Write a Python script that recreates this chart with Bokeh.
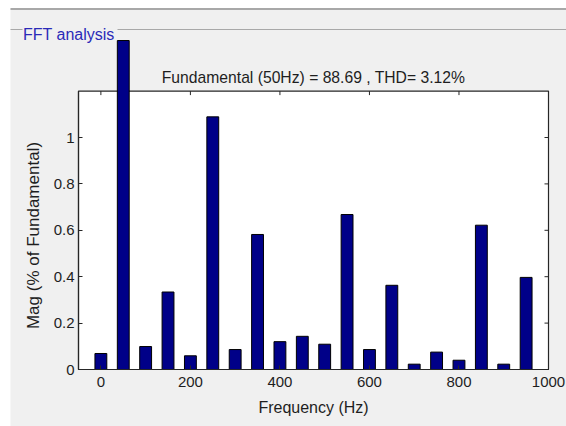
import math
from bokeh.plotting import figure
from bokeh.models import Range1d, FixedTicker, Label
from bokeh.embed import file_html
from bokeh.resources import INLINE

# ---- data ----
freqs = [0, 50, 100, 150, 200, 250, 300, 350, 400, 450,
         500, 550, 600, 650, 700, 750, 800, 850, 900, 950]
mags = [0.069, 1.418, 0.099, 0.334, 0.059, 1.089, 0.086, 0.582, 0.120, 0.143,
        0.109, 0.668, 0.086, 0.363, 0.023, 0.075, 0.040, 0.622, 0.023, 0.397]
xticks = [0, 200, 400, 600, 800, 1000]
yticks = [0, 0.2, 0.4, 0.6, 0.8, 1]
ytick_labels = ["0", "0.2", "0.4", "0.6", "0.8", "1"]
title_text = "Fundamental (50Hz) = 88.69 , THD= 3.12%"
panel_title = "FFT analysis"
x_label = "Frequency (Hz)"
y_label = "Mag (% of Fundamental)"
x_lim = (-50, 1000)
y_lim = (0, 1.2)

# ---- layout geometry (page pixels) ----
W, H = 566, 426
AX_L, AX_R = 78, 548      # pixel position of x_lim
AX_B = 369                # pixel position of y = 0
PX_PER_Y = 232.0          # pixels per unit of y
PX_PER_X = (AX_R - AX_L) / (x_lim[1] - x_lim[0])

def dx(px):
    return x_lim[0] + (px - AX_L) / PX_PER_X

def dy(py):
    return (AX_B - py) / PX_PER_Y

FONT = "Liberation Sans"
PANEL = "#f0f0f0"
AX = "#262626"
TXT = "#1e1e1e"
EDGE = "#a8a8a8"

p = figure(width=W, height=H, x_range=Range1d(dx(0), dx(W)), y_range=Range1d(dy(H), dy(0)),
           output_backend="svg", toolbar_location=None,
           min_border_left=0, min_border_right=0, min_border_top=0, min_border_bottom=0,
           background_fill_color="white", border_fill_color="white", outline_line_color=None)
p.title.visible = False
p.grid.visible = False

# group-box panel
p.quad(left=[dx(10)], right=[dx(W + 5)], bottom=[dy(H + 5)], top=[dy(8)],
       fill_color=PANEL, line_color=None)
p.quad(left=[dx(10)], right=[dx(W + 5)], bottom=[dy(9.5)], top=[dy(7.5)],
       fill_color=EDGE, line_color=None)
p.quad(left=[dx(10), dx(117)], right=[dx(22), dx(W + 5)], bottom=[dy(29.5)] * 2,
       top=[dy(28.5)] * 2, fill_color=EDGE, line_color=None)
p.add_layout(Label(x=dx(22.5), y=dy(34), text=panel_title, text_align="left",
                   text_baseline="alphabetic", text_font=FONT, text_font_size="16px",
                   text_color="#2a2ab8"))

# white axes box with border
p.quad(left=[x_lim[0]], right=[x_lim[1]], bottom=[y_lim[0]], top=[y_lim[1]],
       fill_color="white", line_color=AX, line_width=1.2)
# inward ticks on top and right edges
tlen_y = 4 / PX_PER_Y
tlen_x = 4 / PX_PER_X
p.segment(x0=xticks, y0=[y_lim[1]] * len(xticks), x1=xticks,
          y1=[y_lim[1] - tlen_y] * len(xticks), line_color=AX, line_width=1)
p.segment(x0=[x_lim[1]] * len(yticks), y0=yticks, x1=[x_lim[1] - tlen_x] * len(yticks),
          y1=yticks, line_color=AX, line_width=1)

# bars
p.vbar(x=freqs, top=mags, bottom=0, width=26.5, fill_color="#000088",
       line_color="#000000", line_width=1)

def style_axis(ax):
    ax.major_tick_in = 4
    ax.major_tick_out = 0
    ax.minor_tick_line_color = None
    ax.axis_line_color = AX
    ax.axis_line_width = 1.2
    ax.major_tick_line_color = AX
    ax.major_label_text_font = FONT
    ax.major_label_text_font_size = "15px"
    ax.major_label_text_color = TXT

xa = p.xaxis[0]
style_axis(xa)
xa.ticker = FixedTicker(ticks=xticks)
xa.bounds = x_lim
xa.fixed_location = y_lim[0]
xa.major_label_standoff = 7

ya = p.yaxis[0]
style_axis(ya)
ya.ticker = FixedTicker(ticks=yticks)
ya.bounds = y_lim
ya.fixed_location = x_lim[0]
ya.major_label_overrides = {t: l for t, l in zip(yticks, ytick_labels)}
ya.major_label_standoff = 4

# axis labels and title
xmid = (x_lim[0] + x_lim[1]) / 2
p.add_layout(Label(x=xmid, y=dy(407), text=x_label, text_align="center",
                   text_baseline="middle", text_font=FONT, text_font_size="16px",
                   text_color=TXT))
p.add_layout(Label(x=dx(33), y=dy(235), text=y_label, angle=math.pi / 2,
                   text_align="center", text_baseline="middle", text_font=FONT,
                   text_font_size="17px", text_color=TXT))
p.add_layout(Label(x=xmid, y=dy(77), text=title_text, text_align="center",
                   text_baseline="alphabetic", text_font=FONT, text_font_size="15.7px",
                   text_color=TXT))

open("out.html", "w").write(file_html(p, INLINE))
